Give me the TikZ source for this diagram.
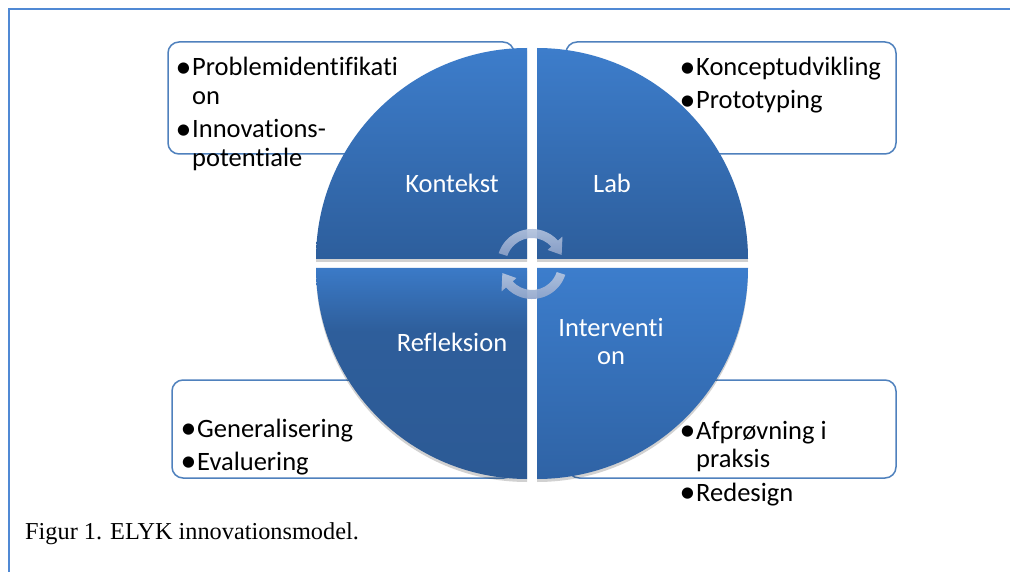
\documentclass[tikz,border=0pt]{standalone}
\usepackage{fontspec}
\usepackage{graphicx}
\setmainfont{Carlito}[Ligatures={NoCommon,NoContextual}]
\newfontfamily\capfont{Liberation Serif}
\usetikzlibrary{calc}

\definecolor{framec}{HTML}{5089D4}
\definecolor{boxc}{HTML}{4F81BD}
\definecolor{tltop}{HTML}{3D7DCB}
\definecolor{tlbot}{HTML}{2D5E9C}
\definecolor{bltop}{HTML}{3B7AC7}
\definecolor{blmid}{HTML}{2E5E9B}
\definecolor{blbot}{HTML}{2C5A95}
\definecolor{brtop}{HTML}{3C7DCC}
\definecolor{brbot}{HTML}{2F63A5}
\definecolor{arrtop}{HTML}{B6C6E0}
\definecolor{arrbot}{HTML}{8CA1C8}

% shading for the lower left quarter: quick change near its top edge
\pgfdeclareverticalshading{blshade}{100bp}{color(0bp)=(blbot); color(25bp)=(blbot); color(60bp)=(blmid); color(75bp)=(bltop); color(100bp)=(bltop)}

% list bullet with a hanging indent of 15pt
\newcommand{\bl}{\makebox[15pt][l]{\hspace{-1.5pt}\raisebox{-1.8pt}{\scalebox{1.2}{\makebox[0pt][l]{•}}}}}

\begin{document}
\begin{tikzpicture}[x=1pt,y=-1pt,
  infobox/.style={draw=boxc, line width=1.5pt, rounded corners=11pt, fill=white},
  itemtxt/.style={anchor=base west, inner sep=0pt, font=\fontsize{26.5}{30}\selectfont, text=black},
  quadtxt/.style={anchor=base, inner sep=0pt, font=\fontsize{26.5}{30}\selectfont, text=white},
  quadshadow/.style={fill=black, opacity=0.18},
  arrowfill/.style={top color=arrtop, bottom color=arrbot, fill opacity=0.92},
]
\useasboundingbox (0,0) rectangle (1010,572);
\fill[white] (0,0) rectangle (1010,572);

% page frame (continues past the right and bottom edges)
\draw[framec, line width=2pt] (9,600) -- (9,9) -- (1040,9);

% text boxes behind the circle
\draw[infobox] (168,42) rectangle (514,154);
\draw[infobox] (566,42) rectangle (896,154);
\draw[infobox] (172,380) rectangle (515,478);
\draw[infobox] (568,380) rectangle (896,478);

% bullet texts
\node[itemtxt] (tl1) at (177,76) {\bl Problemidentifikati};
\node[itemtxt] (tl2) at (177,105) {\hspace*{15pt}on};
\node[itemtxt] (tl3) at (177,138) {\bl Innovations-};
\node[itemtxt] (tl4) at (177,167) {\hspace*{15pt}potentiale};

\node[itemtxt] (tr1) at (681,76) {\bl Konceptudvikling};
\node[itemtxt] (tr2) at (681,109) {\bl Prototyping};

\node[itemtxt] (bl1) at (182,437) {\bl Generalisering};
\node[itemtxt] (bl2) at (182,470) {\bl Evaluering};

\node[itemtxt] (br1) at (681,439) {\bl Afprøvning i};
\node[itemtxt] (br2) at (681,467) {\hspace*{15pt}praksis};
\node[itemtxt] (br3) at (681,501) {\bl Redesign};

% soft shadows of the four quarters
\fill[quadshadow] (527,262) -- (316,262) arc[start angle=180, end angle=270, radius=211] -- cycle;
\fill[quadshadow] (537,262) -- (748,262) arc[start angle=0, end angle=-90, radius=211] -- cycle;
\fill[quadshadow] (537,271) -- (537,482) arc[start angle=90, end angle=0, radius=211] -- cycle;
\fill[quadshadow] (527,271) -- (316,271) arc[start angle=180, end angle=90, radius=211] -- cycle;

% the four quarters of the circle
\shade[top color=tltop, bottom color=tlbot] (527,259) -- (316,259) arc[start angle=180, end angle=270, radius=211] -- cycle;
\shade[top color=tltop, bottom color=tlbot] (537,259) -- (748,259) arc[start angle=0, end angle=-90, radius=211] -- cycle;
\shade[top color=brtop, bottom color=brbot] (537,268) -- (537,479) arc[start angle=90, end angle=0, radius=211] -- cycle;
\shade[shading=blshade] (527,268) -- (316,268) arc[start angle=180, end angle=90, radius=211] -- cycle;

% quarter labels
\node[quadtxt] (kontekst) at (452,193) {Kontekst};
\node[quadtxt] (lab) at (612,193) {Lab};
\node[quadtxt] (refleksion) at (452,351) {Refleksion};
\node[quadtxt] (interv1) at (611,336) {Interventi};
\node[quadtxt] (interv2) at (611,364) {on};

% two circular arrows in the middle
\coordinate (c) at (532,264);
\shade[arrowfill]
  ($(c)+(-162:35)$) arc[start angle=-162, end angle=-42, radius=35]
  -- ($(c)+(-42:41)$) -- ($(c)+(-17:31)$) -- ($(c)+(-42:21)$)
  -- ($(c)+(-42:26)$) arc[start angle=-42, end angle=-162, radius=26] -- cycle;
\shade[arrowfill]
  ($(c)+(18:35)$) arc[start angle=18, end angle=138, radius=35]
  -- ($(c)+(138:41)$) -- ($(c)+(163:31)$) -- ($(c)+(138:21)$)
  -- ($(c)+(138:26)$) arc[start angle=138, end angle=18, radius=26] -- cycle;

% caption
\node[anchor=base west, inner sep=0pt, font=\capfont\fontsize{24.3}{28}\selectfont] (caption) at (25,539) {Figur 1. ELYK innovationsmodel.};
\end{tikzpicture}
\end{document}
